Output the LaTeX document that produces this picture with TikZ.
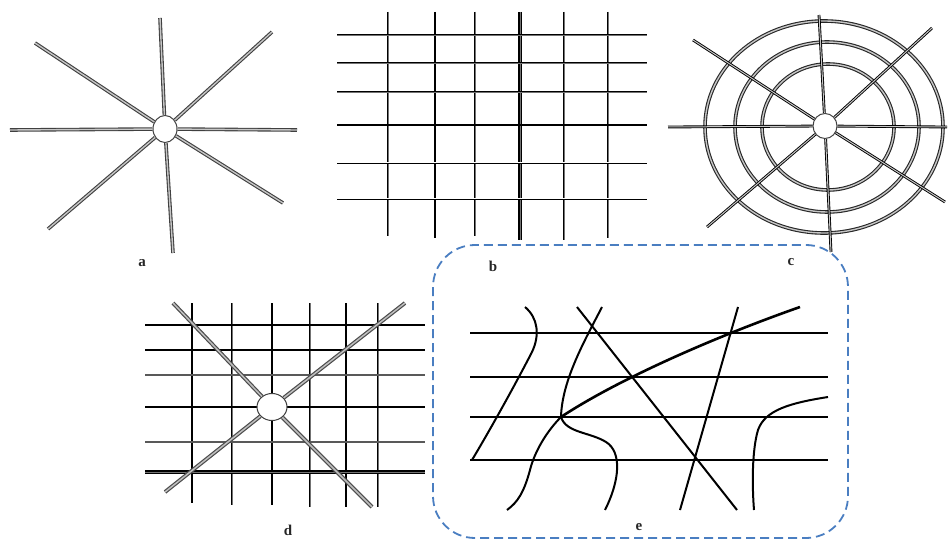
\documentclass[tikz,border=0pt]{standalone}
\usepackage{fontspec}
\setmainfont{Liberation Serif}
\usetikzlibrary{shapes.geometric}
\definecolor{boxblue}{RGB}{74,126,193}
\begin{document}
\begin{tikzpicture}[x=1pt,y=-1pt,
  spoke/.style={draw=black!75, line width=1.1pt, double=gray!45, double distance=1.4pt},
  hub/.style={ellipse, draw=black!75, line width=1pt, fill=white, inner sep=0pt},
  gdbl/.style={draw=black, line width=1pt, double=black!55, double distance=0.9pt},
  wdbl/.style={draw=black, line width=0.9pt, double=white, double distance=1pt},
  thinb/.style={draw=black, line width=1.3pt},
  thickb/.style={draw=black, line width=2.4pt},
  ring/.style={draw=black!85, line width=1.1pt, double=gray!45, double distance=1.4pt},
  cspoke/.style={draw=black, line width=0.9pt, double=gray!45, double distance=1pt},
  gline/.style={draw=black!65, line width=2pt},
  dspoke/.style={draw=black!70, line width=1.2pt, double=gray!50, double distance=1.5pt},
  eline/.style={draw=black, line width=2pt},
  lab/.style={font=\fontsize{15}{16}\selectfont\bfseries, text=black!85, inner sep=0pt}
]
\useasboundingbox (0,0) rectangle (948,540);

% ---------- panel a ----------
\node[hub, minimum width=24pt, minimum height=27pt] (ha) at (165,129) {};
\coordinate (a1) at (160,18);
\coordinate (a2) at (272,32);
\coordinate (a3) at (297,130);
\coordinate (a4) at (283,203);
\coordinate (a5) at (173,253);
\coordinate (a6) at (48,229);
\coordinate (a7) at (10,130);
\coordinate (a8) at (35,43);
\foreach \n in {1,...,8} \draw[spoke] (ha) -- (a\n);
\node[lab] (la) at (142,263) {a};

% ---------- panel b ----------
\draw[gdbl] (388,12) -- (388,236);
\draw[thinb] (435,12) -- (435,238);
\draw[gdbl] (475,12) -- (475,236);
\draw[gdbl, line width=1.2pt] (520,12) -- (520,240);
\draw[gdbl] (564,12) -- (564,240);
\draw[gdbl] (608,12) -- (608,238);
\draw[gdbl] (337,35) -- (647,35);
\draw[gdbl] (337,63) -- (647,63);
\draw[gdbl] (337,92) -- (647,92);
\draw[thinb] (337,125) -- (647,125);
\draw[wdbl] (337,163) -- (647,163);
\draw[wdbl] (337,199) -- (647,199);
\node[lab] (lb) at (493,266) {b};

% ---------- panel c ----------
\draw[ring] (824,127) ellipse [x radius=119pt, y radius=106pt];
\draw[ring] (827,127) ellipse [x radius=92pt, y radius=85pt];
\draw[ring] (828,127) ellipse [x radius=66pt, y radius=63pt];
\node[hub, minimum width=24pt, minimum height=25pt] (hc) at (825,126) {};
\coordinate (c1) at (819,15);
\coordinate (c2) at (932,28);
\coordinate (c3) at (947,127);
\coordinate (c4) at (945,202);
\coordinate (c5) at (831,252);
\coordinate (c6) at (707,227);
\coordinate (c7) at (668,127);
\coordinate (c8) at (693,40);
\foreach \n in {1,...,8} \draw[cspoke] (hc) -- (c\n);
\node[lab] (lc) at (791,262) {c};

% ---------- panel d ----------
\draw[thickb] (192,303) -- (192,503);
\draw[gdbl, line width=0.7pt] (232,303) -- (232,505);
\draw[thinb] (272,303) -- (272,505);
\draw[gdbl] (310,303) -- (310,507);
\draw[thickb] (346,303) -- (346,507);
\draw[gdbl, line width=0.7pt] (378,303) -- (378,507);
\draw[thinb] (145,325) -- (425,325);
\draw[thickb] (145,350) -- (425,350);
\draw[gline] (145,375) -- (425,375);
\draw[thinb] (145,407) -- (425,407);
\draw[gline] (145,442) -- (425,442);
\draw[gdbl, line width=1.2pt] (145,472) -- (425,472);
\node[hub, minimum width=30pt, minimum height=27pt] (hd) at (272,407) {};
\coordinate (d1) at (173,303);
\coordinate (d2) at (372,507);
\coordinate (d3) at (165,492);
\coordinate (d4) at (405,303);
\foreach \n in {1,...,4} \draw[dspoke] (hd) -- (d\n);
\node[lab] (ld) at (288,530) {d};

% ---------- panel e ----------
\draw[boxblue, line width=1.8pt, dash pattern=on 9pt off 5pt, rounded corners=42pt]
  (433,245) rectangle (848,538);
\foreach \y in {333,377,417,460} \draw[eline] (470,\y) -- (828,\y);
\coordinate (ehub) at (561,417);
\draw[eline] (525,307) .. controls (538,318) and (540,335) .. (532,352)
  .. controls (515,385) and (490,430) .. (472,460);
\draw[eline] (577,307) -- (737,510);
\draw[eline] (602,307) .. controls (585,340) and (562,380) .. (ehub)
  .. controls (548,430) and (535,450) .. (530,470)
  .. controls (524,492) and (518,502) .. (507,510);
\draw[eline, line width=2.6pt] (ehub) .. controls (620,378) and (720,335) .. (800,307);
\draw[eline] (ehub) .. controls (566,433) and (590,432) .. (606,442)
  .. controls (622,452) and (620,480) .. (605,510);
\draw[eline] (738,307) -- (680,510);
\draw[eline] (828,397) .. controls (790,403) and (765,410) .. (758,430)
  .. controls (752,450) and (752,485) .. (754,510);
\node[lab] (le) at (639,527) {e};
\end{tikzpicture}
\end{document}
